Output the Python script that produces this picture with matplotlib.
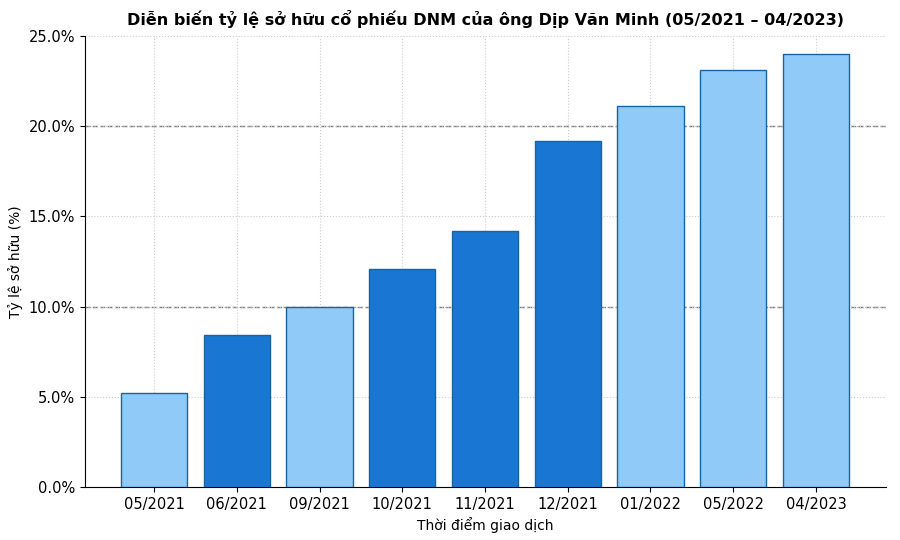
import matplotlib
matplotlib.use("Agg")
import matplotlib.pyplot as plt
from matplotlib.ticker import FuncFormatter

periods = ["05/2021","06/2021","09/2021","10/2021","11/2021","12/2021","01/2022","05/2022","04/2023"]
ownership = [5.2, 8.4, 10.0, 12.1, 14.2, 19.2, 21.1, 23.1, 24.0]
colors = ["#90CAF9","#1976D2","#90CAF9","#1976D2","#1976D2","#1976D2","#90CAF9","#90CAF9","#90CAF9"]

fig = plt.figure(figsize=(9, 5.4), dpi=100)
ax = fig.add_axes([85/900, 1-487/540, 801/900, 451/540])
ax.bar(periods, ownership, color=colors, edgecolor="#1565A0", linewidth=1, width=0.8, zorder=3)
ax.set_ylim(0, 25)
ax.set_xlim(-0.834, 8.846)
ax.set_yticks([0, 5, 10, 15, 20, 25])
ax.yaxis.set_major_formatter(FuncFormatter(lambda v, p: f"{v:.1f}%"))
ax.grid(True, linestyle=":", color="#cccccc", linewidth=0.8, zorder=0)
for y in (10, 20):
    ax.axhline(y, color="#777777", linestyle="--", linewidth=1, zorder=1)
for s in ("top", "right"):
    ax.spines[s].set_visible(False)
ax.tick_params(labelsize=10.5)
ax.set_xlabel("Thời điểm giao dịch", fontsize=10)
ax.set_ylabel("Tỷ lệ sở hữu (%)", fontsize=10)
ax.set_title("Diễn biến tỷ lệ sở hữu cổ phiếu DNM của ông Dịp Văn Minh (05/2021 – 04/2023)",
             fontsize=11.5, fontweight="bold", pad=8)
fig.savefig("out.png", dpi=100)
